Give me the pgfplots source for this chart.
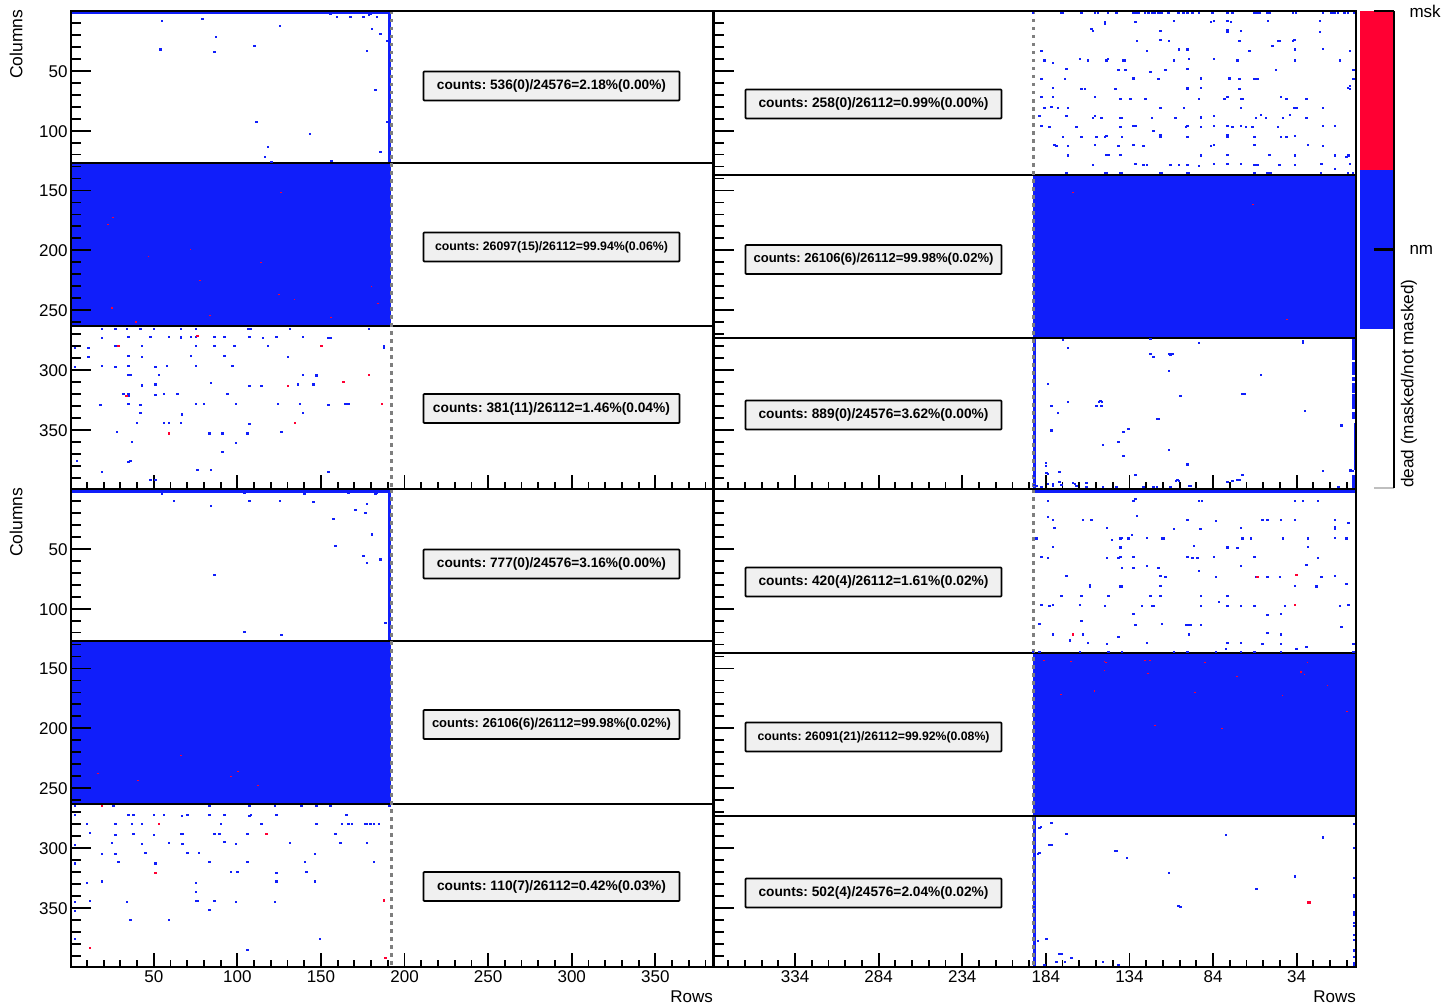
\documentclass[border=0pt]{standalone}
\usepackage{fontspec}
\setmainfont{Liberation Sans}
\usepackage{graphicx}
\usepackage{pgfplots}
\pgfplotsset{compat=1.18}
\frenchspacing
\definecolor{bC}{HTML}{101EFA}
\definecolor{rC}{HTML}{FF0033}
\definecolor{gC}{HTML}{7F7F7F}
\definecolor{boxC}{HTML}{F0F0F0}
\pgfdeclareplotmark{cell}{\pgfpathrectangle{\pgfpoint{-1.25pt}{-1.05pt}}{\pgfpoint{2.5pt}{2.1pt}}\pgfusepathqfill}
\pgfdeclareplotmark{speck}{\pgfpathrectangle{\pgfpoint{-0.9pt}{-0.6pt}}{\pgfpoint{1.8pt}{1.2pt}}\pgfusepathqfill}
\newcommand{\lab}{\fontsize{17}{18}\selectfont}
\pgfplotsset{
 base/.style={scale only axis,width=642pt,height=478pt,y dir=reverse,ymin=0,ymax=399.5,
  axis line style={line width=2pt,black},tick style={line width=1.8pt,black},tick align=inside,
  /pgf/number format/assume math mode=true,
  tick label style={font=\lab},axis on top},
 lx/.style={base,xmin=0.5,xmax=384.5},
 rx/.style={base,x dir=reverse,xmin=-1.5,xmax=382.5},
 xt/.style={xtick pos=lower,xticklabel pos=lower,major tick length=14pt,minor tick length=7pt,ytick=\empty},
 lxt/.style={lx,xt,xtick={50,100,150,200,250,300,350},minor xtick={10,20,30,40,60,70,80,90,110,120,130,140,160,170,180,190,210,220,230,240,260,270,280,290,310,320,330,340,360,370,380}},
 rxt/.style={rx,xt,xtick={34,84,134,184,234,284,334},minor xtick={4,14,24,44,54,64,74,94,104,114,124,144,154,164,174,194,204,214,224,244,254,264,274,294,304,314,324,344,354,364,374}},
 yt/.style={xtick=\empty,major tick length=20pt,minor tick length=10pt,ytick={50,100,150,200,250,300,350},minor ytick={10,20,30,40,60,70,80,90,110,120,130,140,160,170,180,190,210,220,230,240,260,270,280,290,310,320,330,340,360,370,380,390},yticklabel style={yshift=-0.5pt}},
 noxl/.style={xticklabels=\empty},
 B/.style={only marks,mark=cell,bC},
 R/.style={only marks,mark=cell,rC},
 S/.style={only marks,mark=speck,rC},
 A/.style={fill=bC,draw=none},
 DOT/.style={gC,line width=3pt,dash pattern=on 3.5pt off 4.5pt},
 L/.style={black,line width=2pt},
}
\newcommand{\cbox}[4]{\node[draw=black,line width=1.7pt,fill=boxC,rounded corners=0.8pt,minimum width=256pt,minimum height=29pt,inner sep=0pt] at (#1,#2) {\raisebox{-1.7pt}{\resizebox{#3pt}{!}{\bfseries #4}}};}
\begin{document}
\begin{tikzpicture}
\path[use as bounding box] (0,0) rectangle (1441pt,1007pt);
% ---- top left
\begin{axis}[lxt,noxl,at={(71pt,518pt)},anchor=south west]
\addplot[A] coordinates {(0.5,127)(191.8,127)(191.8,263.3)(0.5,263.3)} --cycle;
\addplot[A] coordinates {(0.5,0)(191.8,0)(191.8,2.6)(0.5,2.6)} --cycle;
\addplot[A] coordinates {(190,0)(191.8,0)(191.8,127)(190,127)} --cycle;
\addplot[B] coordinates {(55,8)(79.2,6.4)(87.2,21.4)(125.4,12.2)(54,32.2)(86.2,34.2)(110.2,29.2)(155.6,2.5)(159.6,5.3)(167.6,5.3)(175.6,5.3)(178.6,3.3)(179.6,2.8)(183.6,5.3)(180.6,15.3)(185.6,19.2)(189.6,25.3)(177.6,33.3)(182.6,66.1)(111.4,93)(189.6,93)(143.4,103)(118.4,114)(116.4,122)(120.4,126)(156.4,125)(185.6,118)};
\addplot[S] coordinates {(126,151.7)(25.6,172.8)(22.6,178.3)(72,199.4)(46.8,205.3)(114,210.3)(77.8,225.3)(125,237.2)(134.2,241.4)(180.2,230.3)(184.2,244.2)(24.8,248.3)(83.8,254.2)(156.2,256.4)(39.6,260)};
\addplot[B] coordinates {(19,265.6)(27,265.6)(34,265.6)(42,265.6)(50.2,265.6)(66.2,265.6)(75.2,265.6)(106.8,265.6)(107.8,265.6)(131.4,265.6)(178.6,265.6)(19,273.3)(35,272.2)(48,272.2)(59,272.2)(66.2,272.2)(66.2,273.4)(72.2,272.2)(75.2,272.2)(86.2,272.2)(92.2,272.2)(107.2,272.2)(115.2,273.3)(123.4,272.2)(139.4,272.2)(154.6,273.3)(156,273.3)(3,281.7)(11,281.7)(27,280.3)(43,280.3)(75.2,280.3)(86.2,280.3)(98.2,280.3)(118.4,280.3)(187.6,280.3)(187.6,281.3)(11,289.4)(35,288.3)(43,289.4)(72.2,288.3)(92.2,288.3)(130.4,289.4)(3,297.2)(19,296.4)(27,297.5)(35,296.4)(51,297.5)(58,296.4)(75.2,296.4)(97.2,296.4)(35,304.2)(36,304.2)(53,304.2)(139.4,304.2)(147.4,304.2)(147.4,305.3)(3.2,310.3)(84.2,311.1)(43,312.5)(43,313.7)(51,312.2)(107.2,313.3)(114.4,313.3)(136.4,312.2)(145.4,312.2)(32,320.3)(35,320.5)(35,321.7)(51,321.1)(56,320.3)(64.2,320.3)(94.2,320.3)(18,329.2)(35,328.3)(42,329.2)(75.2,328.3)(80.2,328.3)(99.2,328.3)(124.4,328.3)(137.4,328.3)(154.6,329.2)(164.6,328.3)(166.6,328.3)(42,336.1)(67,337.2)(139.4,336.1)(40,344.2)(56,344.2)(59,344.2)(66.2,344.2)(107.2,345.3)(28,352.2)(83.2,353.1)(91.2,353.1)(106.2,353.1)(126.4,352.2)(5.2,360)(37,360)(99.2,361.1)(91.2,368.9)(4,375.8)(35,376.9)(36,375.8)(19,385)(76.2,383.9)(84.2,383.9)(154.6,385)(48,391.9)(51,391.9)};
\addplot[R] coordinates {(76.2,271.4)(29,280.3)(150.4,280.3)(178.6,304.2)(163.6,310.3)(130.4,313.3)(33.6,321.4)(186.6,328.3)(134.4,344.2)(59,353.1)};
\addplot[L] coordinates {(0.5,127)(384.5,127)};
\addplot[L] coordinates {(0.5,263.3)(384.5,263.3)};
\addplot[DOT] coordinates {(192,0)(192,399.5)};
\end{axis}
\begin{axis}[lx,yt,ytick pos=lower,yticklabel pos=lower,at={(71pt,518pt)},anchor=south west]\end{axis}
% ---- top right
\begin{axis}[rxt,noxl,at={(714pt,518pt)},anchor=south west]
\addplot[A] coordinates {(-1.5,137.1)(191.5,137.1)(191.5,273.3)(-1.5,273.3)} --cycle;
\addplot[A] coordinates {(190,273.3)(191.5,273.3)(191.5,399.5)(190,399.5)} --cycle;
\addplot[A] coordinates {(-1.5,273.3)(0.6,273.3)(0.6,292)(-1.5,292)} --cycle;
\addplot[A] coordinates {(-1.5,293)(0.6,293)(0.6,304)(-1.5,304)} --cycle;
\addplot[A] coordinates {(-1.5,306)(0.6,306)(0.6,309)(-1.5,309)} --cycle;
\addplot[A] coordinates {(-1.5,311)(0.6,311)(0.6,319)(-1.5,319)} --cycle;
\addplot[A] coordinates {(-1.5,320)(0.6,320)(0.6,333)(-1.5,333)} --cycle;
\addplot[A] coordinates {(-1.5,335)(0.6,335)(0.6,341)(-1.5,341)} --cycle;
\addplot[A] coordinates {(-1.5,344)(-0.2,344)(-0.2,384)(-1.5,384)} --cycle;
\addplot[A] coordinates {(-1.5,388)(0.6,388)(0.6,399.5)(-1.5,399.5)} --cycle;
\addplot[B] coordinates {(191.7,1.4)(174.7,1.4)(173.7,1.4)(162.7,1.4)(154.7,1.4)(152.9,1.4)(146.7,1.4)(141.7,1.4)(131.7,1.4)(129.7,1.4)(128.7,1.4)(124.7,1.4)(122.7,1.4)(120.3,1.4)(118.7,1.4)(116.7,1.4)(114.7,1.4)(110.7,1.4)(104.7,1.4)(101.7,1.4)(99.3,1.4)(96.3,1.4)(92.3,1.4)(84.3,1.4)(75.3,1.4)(72.3,1.4)(59.3,1.4)(57.3,1.4)(56.3,1.4)(51.3,1.4)(50.3,1.4)(36.3,1.4)(34.3,1.4)(18.3,1.4)(13.3,1.4)(11.3,1.4)(9.3,1.4)(5.3,1.4)(3.3,1.4)(-0.3,1.4)
(148.7,9.5)(148.7,10.7)(130.5,9.4)(107.5,8.3)(85.3,9.4)(83.3,8.3)(75.3,8.3)(73.3,9.4)(51.1,8.3)(20.1,8.3)
(156.7,15.3)(155.7,16.4)(115.5,16.4)(75.3,16.1)(75.3,17.2)(67.3,16.4)(20.1,17.5)
(129.5,25.3)(115.5,24.4)(110.5,25.3)(68.3,25.3)(45.3,25.3)(44.1,25.3)(36.3,25.3)(35.3,24.2)(48.3,29.4)
(186.7,33.3)(123.5,33.3)(104.5,32.2)(99.3,32.2)(62.3,33.3)(35.1,32.2)(18.1,31.4)(2.1,33.3)
(184.7,41.4)(179.7,43.1)(163.7,40.3)(158.7,41.4)(147.7,41.4)(146.7,40.3)(137.7,41.4)(136.7,41.4)(107.5,41.4)(98.3,40.3)(83.3,40.3)(69.3,41.4)(35.1,41.4)(8.1,41.4)
(171.7,48.3)(140.7,49.4)(136.5,49.4)(121.5,51.1)(112.5,49.4)(99.3,48.3)(46.3,49.4)(0.1,49.4)
(186.7,57.2)(172.7,57.2)(131.7,56.4)(116.5,57.2)(91.3,56.4)(74.3,56.4)(68.3,57.2)(59.3,57.2)(57.3,57.2)(0.1,57.2)
(179.7,64.2)(162.7,65.3)(160.7,65.3)(142.5,65.3)(99.3,64)(99.3,65.2)(91.3,64.2)(68.3,65.3)(3.3,64.7)(2.1,62.5)(2.1,65)
(186.7,72.2)(179.7,72.2)(154.7,72.2)(139.5,73.3)(133.5,73.3)(124.5,73.3)(92.3,73.3)(77.3,73.3)(75.3,72.2)(67.3,73.3)(66.3,73.3)(43.3,72.2)(40.1,73.3)(28.1,73.3)
(184.7,81.1)(180.7,80.3)(176.7,81.1)(170.7,81.1)(115.5,81.1)(101.3,81.1)(67.3,81.1)(35.3,81.1)(34.1,81.1)(18.1,81.1)
(187.7,88)(171.7,88)(155.7,89.2)(154.7,88)(150.7,89.2)(139.5,89.2)(138.5,89.2)(120.5,89.2)(106.5,89.2)(91.3,88.4)(91.3,89.6)(83.3,88)(58.3,89.2)(55.3,87.2)(52.3,89.2)(42.3,89.2)(38.1,87.2)(28.1,89.2)
(186.7,96.1)(181.7,97.2)(165.7,97.2)(139.5,97.2)(131.5,96.1)(130.5,96.1)(100.3,97.2)(99.3,96.1)(91.3,97.2)(83.3,96.1)(75.3,96.1)(72.3,97.2)(67.3,96.1)(64.3,97.2)(60.3,97.2)(45.3,97.2)(18.1,96.1)(11.1,96.1)(119.5,100)
(173.7,105)(162.7,105)(153.7,105)(148.7,105)(147.7,104.2)(138.5,105)(115.5,104)(115.5,105.2)(99.3,105)(75.3,104)(75.3,105.2)(59.3,105)(43.3,105)(40.1,105)(35.1,104.2)
(178.7,112)(177.7,113)(170.7,113)(154.7,112)(140.7,113)(131.5,112)(125.5,113)(85.3,113)(83.3,112)(59.3,112)(27.1,112)(18.1,113)
(170.7,120.8)(147.7,120)(146.5,120)(139.5,120)(91.3,120.8)(75.3,120)(50.3,120)(35.1,120.8)(11.1,120)(11.1,121.2)(4.1,122)(3.1,120.8)
(155.7,128.9)(130.5,128)(125.5,128.9)(123.5,128.9)(109.5,128.9)(104.5,128.9)(99.3,128.9)(92.3,129.5)(83.3,128)(75.3,128)(67.3,128)(59.3,128.9)(57.3,128.9)(44.3,128.9)(35.1,128.9)(19.1,128)(2.1,128)(11.1,132)
(171.7,135.5)(148.7,135.5)(147.7,135.5)(139.5,135.5)(138.5,135.5)(115.5,135.5)(114.5,135.5)(99.3,135.5)(98.3,135.5)(59.3,135.5)(51.3,135.5)(50.3,135.5)(49.3,135.5)(19.3,135.5)(3.3,135.5)(0.3,135.5)};
\addplot[S] coordinates {(167.8,151.7)(60.1,161.7)(39.8,257.8)};
\addplot[B] coordinates {(173.7,275.3)(121.5,274.5)(170.7,281.4)(92.5,277.3)(30.1,276.2)(30.1,277.4)(121.5,286.4)(119.5,289.2)(110.5,286.4)(109.3,286.4)(108.3,286.4)(109.5,287.5)(110.5,301.2)(55.3,303.9)(182.7,312)(103.5,322)(66.5,320)(65.3,320)(170.7,327)(180.7,330)(176.7,335.9)(152.3,327)(151.3,325.9)(150.3,327)(153.7,330)(150.7,330)(29.1,334)(117.3,340.9)(116.3,340.9)(7.1,345.7)(7.1,346.9)(134.7,349)(137.7,352)(180.7,350.6)(140.7,360)(149.7,362.8)(110.5,366.7)(137.7,371.7)(99.3,379)(183.9,378.1)(183.9,380)(18.1,384.8)(1.7,384)(0.7,384.5)(175.7,385.6)(183.7,385.9)(182.7,386.7)(190.7,388.7)(130.5,387.8)(66.3,387.8)(69.3,391.7)(68.3,392.3)(72.3,392.8)(75.3,393.7)(105.3,392)(106.3,392.8)(104.3,392.8)(175.7,393.7)(167.7,394.8)(166.7,395.6)(165.7,397.3)(159.7,394.8)(159.7,397.6)(179.7,395.6)(179.7,396.7)(182.7,395.6)(190.7,396)(189.7,397)(186.7,397.6)(174.7,396)(149.7,397.6)(141.7,397.6)(125.5,397.6)(119.5,397.6)(117.5,397.6)(109.5,397.6)(98.3,397)(97.3,396.7)(9.1,397.6)(0.3,396)};
\addplot[L] coordinates {(-1.5,137.1)(382.5,137.1)};
\addplot[L] coordinates {(-1.5,273.3)(382.5,273.3)};
\addplot[DOT] coordinates {(191.5,0)(191.5,399.5)};
\end{axis}
\begin{axis}[rx,yt,ytick pos=lower,yticklabels=\empty,at={(714pt,518pt)},anchor=south west]\end{axis}
% ---- bottom left
\begin{axis}[lxt,at={(71pt,40pt)},anchor=south west]
\addplot[A] coordinates {(0.5,127)(191.8,127)(191.8,263.3)(0.5,263.3)} --cycle;
\addplot[A] coordinates {(0.5,0)(191.8,0)(191.8,3)(0.5,3)} --cycle;
\addplot[A] coordinates {(190,0)(191.8,0)(191.8,127)(190,127)} --cycle;
\addplot[B] coordinates {(55,4.2)(104.2,3.3)(140.2,4.2)(166.6,3.3)(182.6,4)(183.6,3.6)(190.6,3.6)(190.6,6.4)(62.2,10)(107.2,10)(125.4,10)(84.2,14.2)(145.4,11.1)(177.6,12.2)(170.6,17.2)(176.6,20.3)(157.6,25.3)(180.6,38)(190.6,42)(158.6,48)(175.6,56.1)(185.6,58.9)(177.6,62)(86.2,72)(188.6,112)(104.2,119.7)(126.4,121.7)};
\addplot[S] coordinates {(16.6,237.8)(40.6,243.6)(100.4,236)(112.3,247.8)(66.3,222.7)(96,240)};
\addplot[B] coordinates {(3,265.3)(26,265.3)(83.2,265.3)(107.2,265.3)(122.4,265.3)(138.4,265.3)(147.4,265.3)(155.6,265.3)(191,265.3)
(2.8,272.2)(35,272.2)(38,272.2)(50.2,272.2)(56.2,272.2)(67,273)(70.2,272.2)(83.2,272.2)(92.2,272.2)(107.2,273)(108.2,272.2)(123.4,272.2)(165.4,272.2)
(10,280.3)(27,280.3)(37,280.3)(43,280.3)(90.2,280.3)(114.4,280.3)(147.4,280.3)(162.6,280.3)(166.6,280.3)(168.6,280.3)(176.6,280.3)(177.6,280.3)(179.6,280.3)(181.6,280.3)(184.6,280.3)
(11.8,287.2)(27,289.2)(38,288)(50.2,289.2)(66.2,288)(67.2,288)(86.2,288)(89.2,288)(106.2,288)(158.6,288)
(2.8,297.2)(25,296)(43,297)(59,296)(67.2,297)(92.2,295)(99.2,297)(131.4,296)(161.6,296)(177.6,296)
(19,305)(27,305)(45,304.2)(70.2,304.2)(77.2,304.2)(146.4,305)
(2.8,313)(29,312)(51,313)(83.2,312)(106.2,312)(140.4,312)(181.6,312)
(96.2,320)(100.2,320)(123.4,321.1)(141.4,320)
(10,329.2)(19,328)(75.2,329.2)(123.4,328)(146.4,328)(75.2,337)
(2.8,345)(11.8,344)(34,345)(75.2,344.4)(76.2,344)(86.2,344)(99.2,345)(122.4,345)
(83.2,352)(2.8,353)(36,360)(59,360)(2.8,375.8)(149.4,375.8)(106.2,385)};
\addplot[R] coordinates {(19,265.3)(53,280.3)(117.4,288)(51,321.1)(187.6,343.9)(11.8,383.9)(188.6,392)};
\addplot[L] coordinates {(0.5,127)(384.5,127)};
\addplot[L] coordinates {(0.5,263.3)(384.5,263.3)};
\addplot[DOT] coordinates {(192,0)(192,399.5)};
\end{axis}
\begin{axis}[lx,yt,ytick pos=lower,yticklabel pos=lower,at={(71pt,40pt)},anchor=south west]\end{axis}
% ---- bottom right
\begin{axis}[rxt,at={(714pt,40pt)},anchor=south west]
\addplot[A] coordinates {(-1.5,137.1)(191.5,137.1)(191.5,273.3)(-1.5,273.3)} --cycle;
\addplot[A] coordinates {(-1.5,0)(191.5,0)(191.5,3)(-1.5,3)} --cycle;
\addplot[A] coordinates {(190,273.3)(191.5,273.3)(191.5,399.5)(190,399.5)} --cycle;
\addplot[B] coordinates {(182.7,9.7)(131.5,9.7)(130.5,8.6)(92.5,9.7)(90.5,9.7)(35.1,9.7)(30.1,9.7)(21.1,9.7)
(182.7,23.6)(179.7,25.6)(161.7,25.6)(156.7,25.6)(129.5,22.5)(99.3,25.6)(82.3,26.7)(54.3,25.6)(51.3,25.6)(43.3,25.6)(35.1,25.6)(11.1,25.6)(3.1,28.6)
(178.7,32.5)(147.5,32.5)(107.3,33.6)(91.5,33.6)(67.3,32.5)(11.1,32.2)(11.1,33.4)
(189.7,41.4)(144.5,42.5)(139.5,41.4)(138.5,40.6)(134.5,41.4)(132.5,38.7)(123.5,40.6)(114.5,41.4)(113.5,41.4)(66.3,41.4)(61.3,41.4)(42.3,41.4)(27.1,41.4)(11.1,40.6)(4.1,41.4)
(179.7,48.7)(139.5,48.4)(139.5,49.6)(95.3,47.6)(75.3,48.4)(75.3,49.6)(69.3,49.5)(27.1,48.7)
(186.7,56.5)(182.7,57.6)(147.5,57.6)(140.5,57.6)(139.5,56.8)(131.5,56.5)(99.3,56.5)(96.3,57.6)(93.3,57.6)(83.3,56.5)(59.3,56.5)(21.1,57.6)
(138.5,65.7)(131.5,65.7)(123.5,64.6)(116.5,65.7)(67.3,64.6)(28.1,63.7)
(92.5,68.7)(171.7,72.6)(115.5,72.6)(112.5,73.5)(82.3,73.5)(58.3,73.5)(51.3,73.5)(44.1,73.5)(19.1,73.5)(11.1,72.6)
(157.7,80.5)(157.7,81.7)(139.5,81.5)(138.5,81.5)(115.5,80.7)(35.1,80.7)(22.1,81.5)(4.1,79.6)
(174.7,89.6)(162.7,89.6)(146.5,89.6)(121.5,89.6)(115.5,89.6)(91.3,89.6)(75.3,89.6)
(186.7,96.6)(181.7,97.7)(179.7,96.6)(163.7,96.6)(148.5,97.7)(126.5,97.7)(120.5,97.7)(119.5,97.7)(91.3,97.7)(80.3,94.6)(75.3,97.7)(67.3,97.7)(59.3,97.7)(41.1,97.7)(8.1,97.7)(3.1,96.6)
(131.5,104.6)(51.3,105.5)(43.3,104.6)
(187.7,112.5)(162.7,110.5)(130.5,113.6)(114.5,112.5)(100.3,113.6)(99.3,113.6)(97.5,113.6)(91.3,113.6)(7.1,115.5)
(179.7,121.6)(161.7,121.6)(98.3,121.6)(51.3,120.5)(43.3,121.6)(140.5,123.6)(169.7,126.6)
(158.7,128.6)(147.5,129.7)(123.5,128.6)(75.3,128.6)(67.3,128.6)(54.3,129.7)(43.3,129.7)(28.1,131.7)(0.1,129.7)
(76.3,133.6)(34.1,133.6)
(191.7,136.2)(187.7,136.2)(163.7,136.2)(146.5,136.2)(138.5,136.2)(107.5,136.2)(99.3,136.2)(82.3,136.2)(67.3,136.2)(59.3,136.2)(43.3,136.2)(0.1,136.2)};
\addplot[R] coordinates {(57.3,73.5)(34.1,71.5)(35.1,96.6)(167.7,121.6)};
\addplot[S] coordinates {(185.1,143)(169.1,143.9)(148.9,143.9)(147.9,145)(124.7,143)(121.7,143)(88.7,145)(27.5,145)(148.9,152)(122.7,153.9)(69.7,157)(31.5,153)(29.3,155)(15.5,163.9)(175.1,172)(154.9,168.9)(94.7,170)(42.5,172.8)(4.1,185.9)(118.9,197.9)(78.5,200.1)};
\addplot[B] coordinates {(180.7,279.3)(187.9,283.2)(186.9,282.6)(171.7,288.5)(76.3,289.3)(18.1,291.3)(181.7,297.4)(180.7,297.4)(142.6,302.4)(141.6,302.4)(135.5,308.2)(188.8,304.8)(187.8,304.4)(110.5,321.3)(35.1,323.2)(35.1,324.4)(58.1,334.4)(104.6,348.7)(103.6,349.1)(190.7,349.2)(183.7,376.2)(188.7,378.1)(175.7,389)(174.7,388.4)(168.7,392)(177.7,395.1)(172.7,395.1)(149.7,395.1)(140.7,398.2)(184.7,398.2)
(-0.3,279.8)(-0.3,300.4)(-0.3,325.2)(-0.3,339.7)(-0.3,341.1)(-0.3,353.6)(-0.3,355.6)(-0.3,362.5)(-0.3,365.3)(-0.3,373.1)(-0.3,376.7)(-0.3,385.7)(-0.3,391.2)(-0.3,396.2)(-0.3,398)};
\addplot[R] coordinates {(27.3,345.6)(26.3,345.6)};
\addplot[L] coordinates {(-1.5,137.1)(382.5,137.1)};
\addplot[L] coordinates {(-1.5,273.3)(382.5,273.3)};
\addplot[DOT] coordinates {(191.5,0)(191.5,399.5)};
\end{axis}
\begin{axis}[rx,yt,ytick pos=lower,yticklabels=\empty,at={(714pt,40pt)},anchor=south west]\end{axis}
% ---- colour bar
\begin{axis}[scale only axis,width=34pt,height=477pt,at={(1360pt,519pt)},anchor=south west,
 xmin=0,xmax=1,ymin=0,ymax=3,axis x line=none,axis y line*=right,y axis line style={line width=1.8pt,-},
 ytick={1.5,3},yticklabels={nm,msk},tick align=inside,major tick length=20pt,
 tick style={line width=1.8pt,black},
 yticklabel style={font=\lab,anchor=west,xshift=12pt},axis on top,clip=false]
\addplot[fill=rC,draw=none] coordinates {(0,2)(1,2)(1,3)(0,3)} --cycle;
\addplot[fill=bC,draw=none] coordinates {(0,1)(1,1)(1,2)(0,2)} --cycle;
\addplot[black!25,line width=1.8pt] coordinates {(0.41,0)(1,0)};
\addplot[black,line width=2.2pt] coordinates {(0.41,1.5)(1,1.5)};
\end{axis}
\begin{scope}[shift={(0,1007pt)},x=1pt,y=-1pt]
\node[rotate=90,anchor=east,font=\fontsize{17.5}{18}\selectfont,inner sep=0pt] at (16,9.5) {Columns};
\node[rotate=90,anchor=east,font=\fontsize{17.5}{18}\selectfont,inner sep=0pt] at (16,487.5) {Columns};
\node[anchor=east,font=\lab,inner sep=0pt] at (713,997) {Rows};
\node[anchor=east,font=\lab,inner sep=0pt] at (1356,997) {Rows};
\node[rotate=90,anchor=west,font=\fontsize{17.2}{18}\selectfont,inner sep=0pt] at (1409,488) {dead (masked/not masked)};
\cbox{551.5}{86}{229}{counts: 536(0)/24576=2.18\%(0.00\%)}
\cbox{551.5}{247}{233}{counts: 26097(15)/26112=99.94\%(0.06\%)}
\cbox{551.5}{408.5}{237}{counts: 381(11)/26112=1.46\%(0.04\%)}
\cbox{873.5}{104}{230}{counts: 258(0)/26112=0.99\%(0.00\%)}
\cbox{873.5}{259.5}{240}{counts: 26106(6)/26112=99.98\%(0.02\%)}
\cbox{873.5}{415}{230}{counts: 889(0)/24576=3.62\%(0.00\%)}
\cbox{551.5}{564}{229}{counts: 777(0)/24576=3.16\%(0.00\%)}
\cbox{551.5}{724.5}{239}{counts: 26106(6)/26112=99.98\%(0.02\%)}
\cbox{551.5}{886.5}{229}{counts: 110(7)/26112=0.42\%(0.03\%)}
\cbox{873.5}{582}{230}{counts: 420(4)/26112=1.61\%(0.02\%)}
\cbox{873.5}{737}{232}{counts: 26091(21)/26112=99.92\%(0.08\%)}
\cbox{873.5}{893}{230}{counts: 502(4)/24576=2.04\%(0.02\%)}
\end{scope}
\end{tikzpicture}
\end{document}
